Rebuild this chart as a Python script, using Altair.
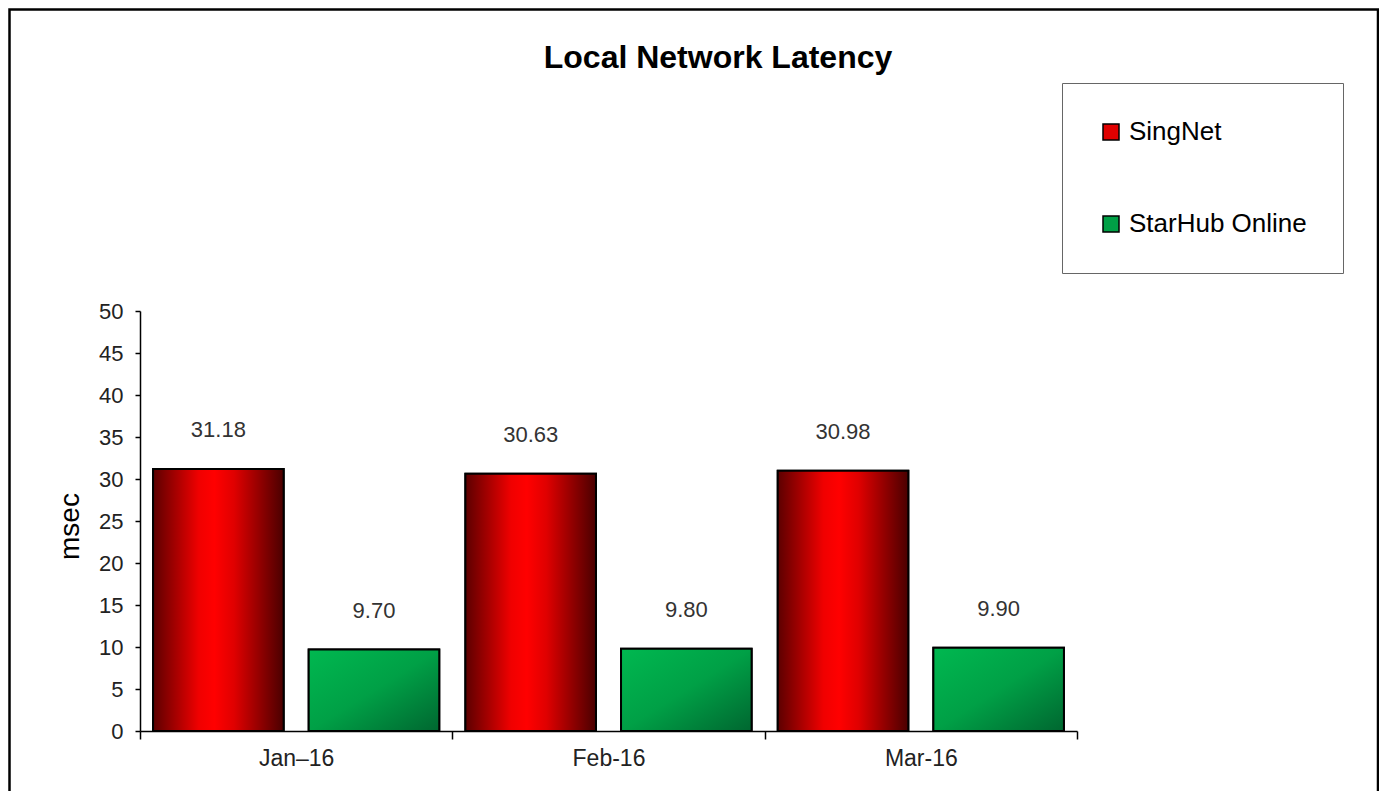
import altair as alt
import pandas as pd

FONT = "Liberation Sans"

chart_title = ["Local Network Latency"]
months = ["Jan–16", "Feb-16", "Mar-16"]
series_names = ["SingNet", "StarHub Online"]
singnet = [31.18, 30.63, 30.98]
starhub = [9.70, 9.80, 9.90]
y_ticks = [0, 5, 10, 15, 20, 25, 30, 35, 40, 45, 50]
legend_colors = ["#e00000", "#00a046"]

rows = []
for m, a, b in zip(months, singnet, starhub):
    rows.append({"month": m, "series": series_names[0], "value": a})
    rows.append({"month": m, "series": series_names[1], "value": b})
df = pd.DataFrame(rows)

red_grad = alt.LinearGradient(
    gradient="linear", x1=0, y1=0, x2=1, y2=0,
    stops=[
        alt.GradientStop(offset=0, color="#5c0000"),
        alt.GradientStop(offset=0.35, color="#f00000"),
        alt.GradientStop(offset=0.47, color="#ff0000"),
        alt.GradientStop(offset=0.62, color="#e00000"),
        alt.GradientStop(offset=1, color="#4a0000"),
    ],
)
green_grad = alt.LinearGradient(
    gradient="linear", x1=0, y1=0, x2=1, y2=1,
    stops=[
        alt.GradientStop(offset=0, color="#00b850"),
        alt.GradientStop(offset=0.5, color="#00a046"),
        alt.GradientStop(offset=1, color="#006630"),
    ],
)

x_enc = alt.X(
    "month:N", sort=months,
    scale=alt.Scale(paddingInner=0, paddingOuter=0),
    axis=alt.Axis(
        title=None, tickBand="extent", ticks=True, tickSize=8, tickColor="black",
        tickWidth=1.5, domainColor="black", domainWidth=1.5, labelFont=FONT,
        labelFontSize=23, labelColor="#222", labelPadding=8, labelAngle=0, grid=False,
    ),
)
xo_enc = alt.XOffset(
    "series:N", sort=series_names,
    scale=alt.Scale(paddingInner=0.161, paddingOuter=0.084),
)
y_enc = alt.Y(
    "value:Q",
    scale=alt.Scale(domain=[0, 50], nice=False),
    axis=alt.Axis(
        values=y_ticks, title="msec", titleFont=FONT, titleFontSize=28,
        titleFontWeight="normal", titleColor="black", titleAngle=270,
        titleX=-70, titleY=215, titleAlign="center", titleBaseline="middle",
        tickSize=5, tickColor="black", tickWidth=1.5, domainColor="black",
        domainWidth=1.5, labelFont=FONT, labelFontSize=22, labelColor="#222",
        labelPadding=12, grid=False,
    ),
)

base = alt.Chart(df)

legend_bars = base.mark_bar(stroke="black", strokeWidth=2).encode(
    x=x_enc, xOffset=xo_enc, y=y_enc,
    color=alt.Color(
        "series:N", sort=series_names, title=None,
        scale=alt.Scale(domain=series_names, range=legend_colors),
        legend=alt.Legend(
            orient="none", legendX=922, legendY=-228, direction="vertical",
            padding=36, rowPadding=66, strokeColor="#666", fillColor="white",
            symbolType="square", symbolSize=256, symbolStrokeColor="black",
            symbolStrokeWidth=1.5, symbolOpacity=1, labelFont=FONT,
            labelFontSize=26, labelColor="black", labelOffset=5, labelLimit=400,
        ),
    ),
)

red_bars = base.transform_filter(alt.datum.series == series_names[0]).mark_bar(
    fill=red_grad, stroke="black", strokeWidth=2
).encode(x=x_enc, xOffset=xo_enc, y=y_enc)

green_bars = base.transform_filter(alt.datum.series == series_names[1]).mark_bar(
    fill=green_grad, stroke="black", strokeWidth=2
).encode(x=x_enc, xOffset=xo_enc, y=y_enc)

labels = base.mark_text(
    font=FONT, fontSize=22, color="#333", baseline="middle", align="center", dy=-39
).encode(
    x=x_enc, xOffset=xo_enc, y=y_enc,
    text=alt.Text("value:Q", format=".2f"),
)

title_text = alt.Chart(pd.DataFrame({"t": chart_title})).mark_text(
    font=FONT, fontSize=32, fontWeight="bold", color="black",
    align="center", baseline="alphabetic",
).encode(x=alt.value(578), y=alt.value(-243), text="t:N")

frame = alt.Chart(pd.DataFrame({"f": [0]})).mark_rect(
    fill="transparent", stroke="black", strokeWidth=2.5
).encode(
    x=alt.value(-130.5), x2=alt.value(1238), y=alt.value(-301.5), y2=alt.value(520)
)

chart = alt.layer(frame, legend_bars, red_bars, green_bars, labels, title_text).properties(
    width=937,
    height=420,
    autosize="none",
    padding={"left": 132, "top": 303, "right": 302, "bottom": 60},
    background="white",
).configure_view(stroke=None)

chart.save("out.html", embed_options={"renderer": "svg", "actions": False})
